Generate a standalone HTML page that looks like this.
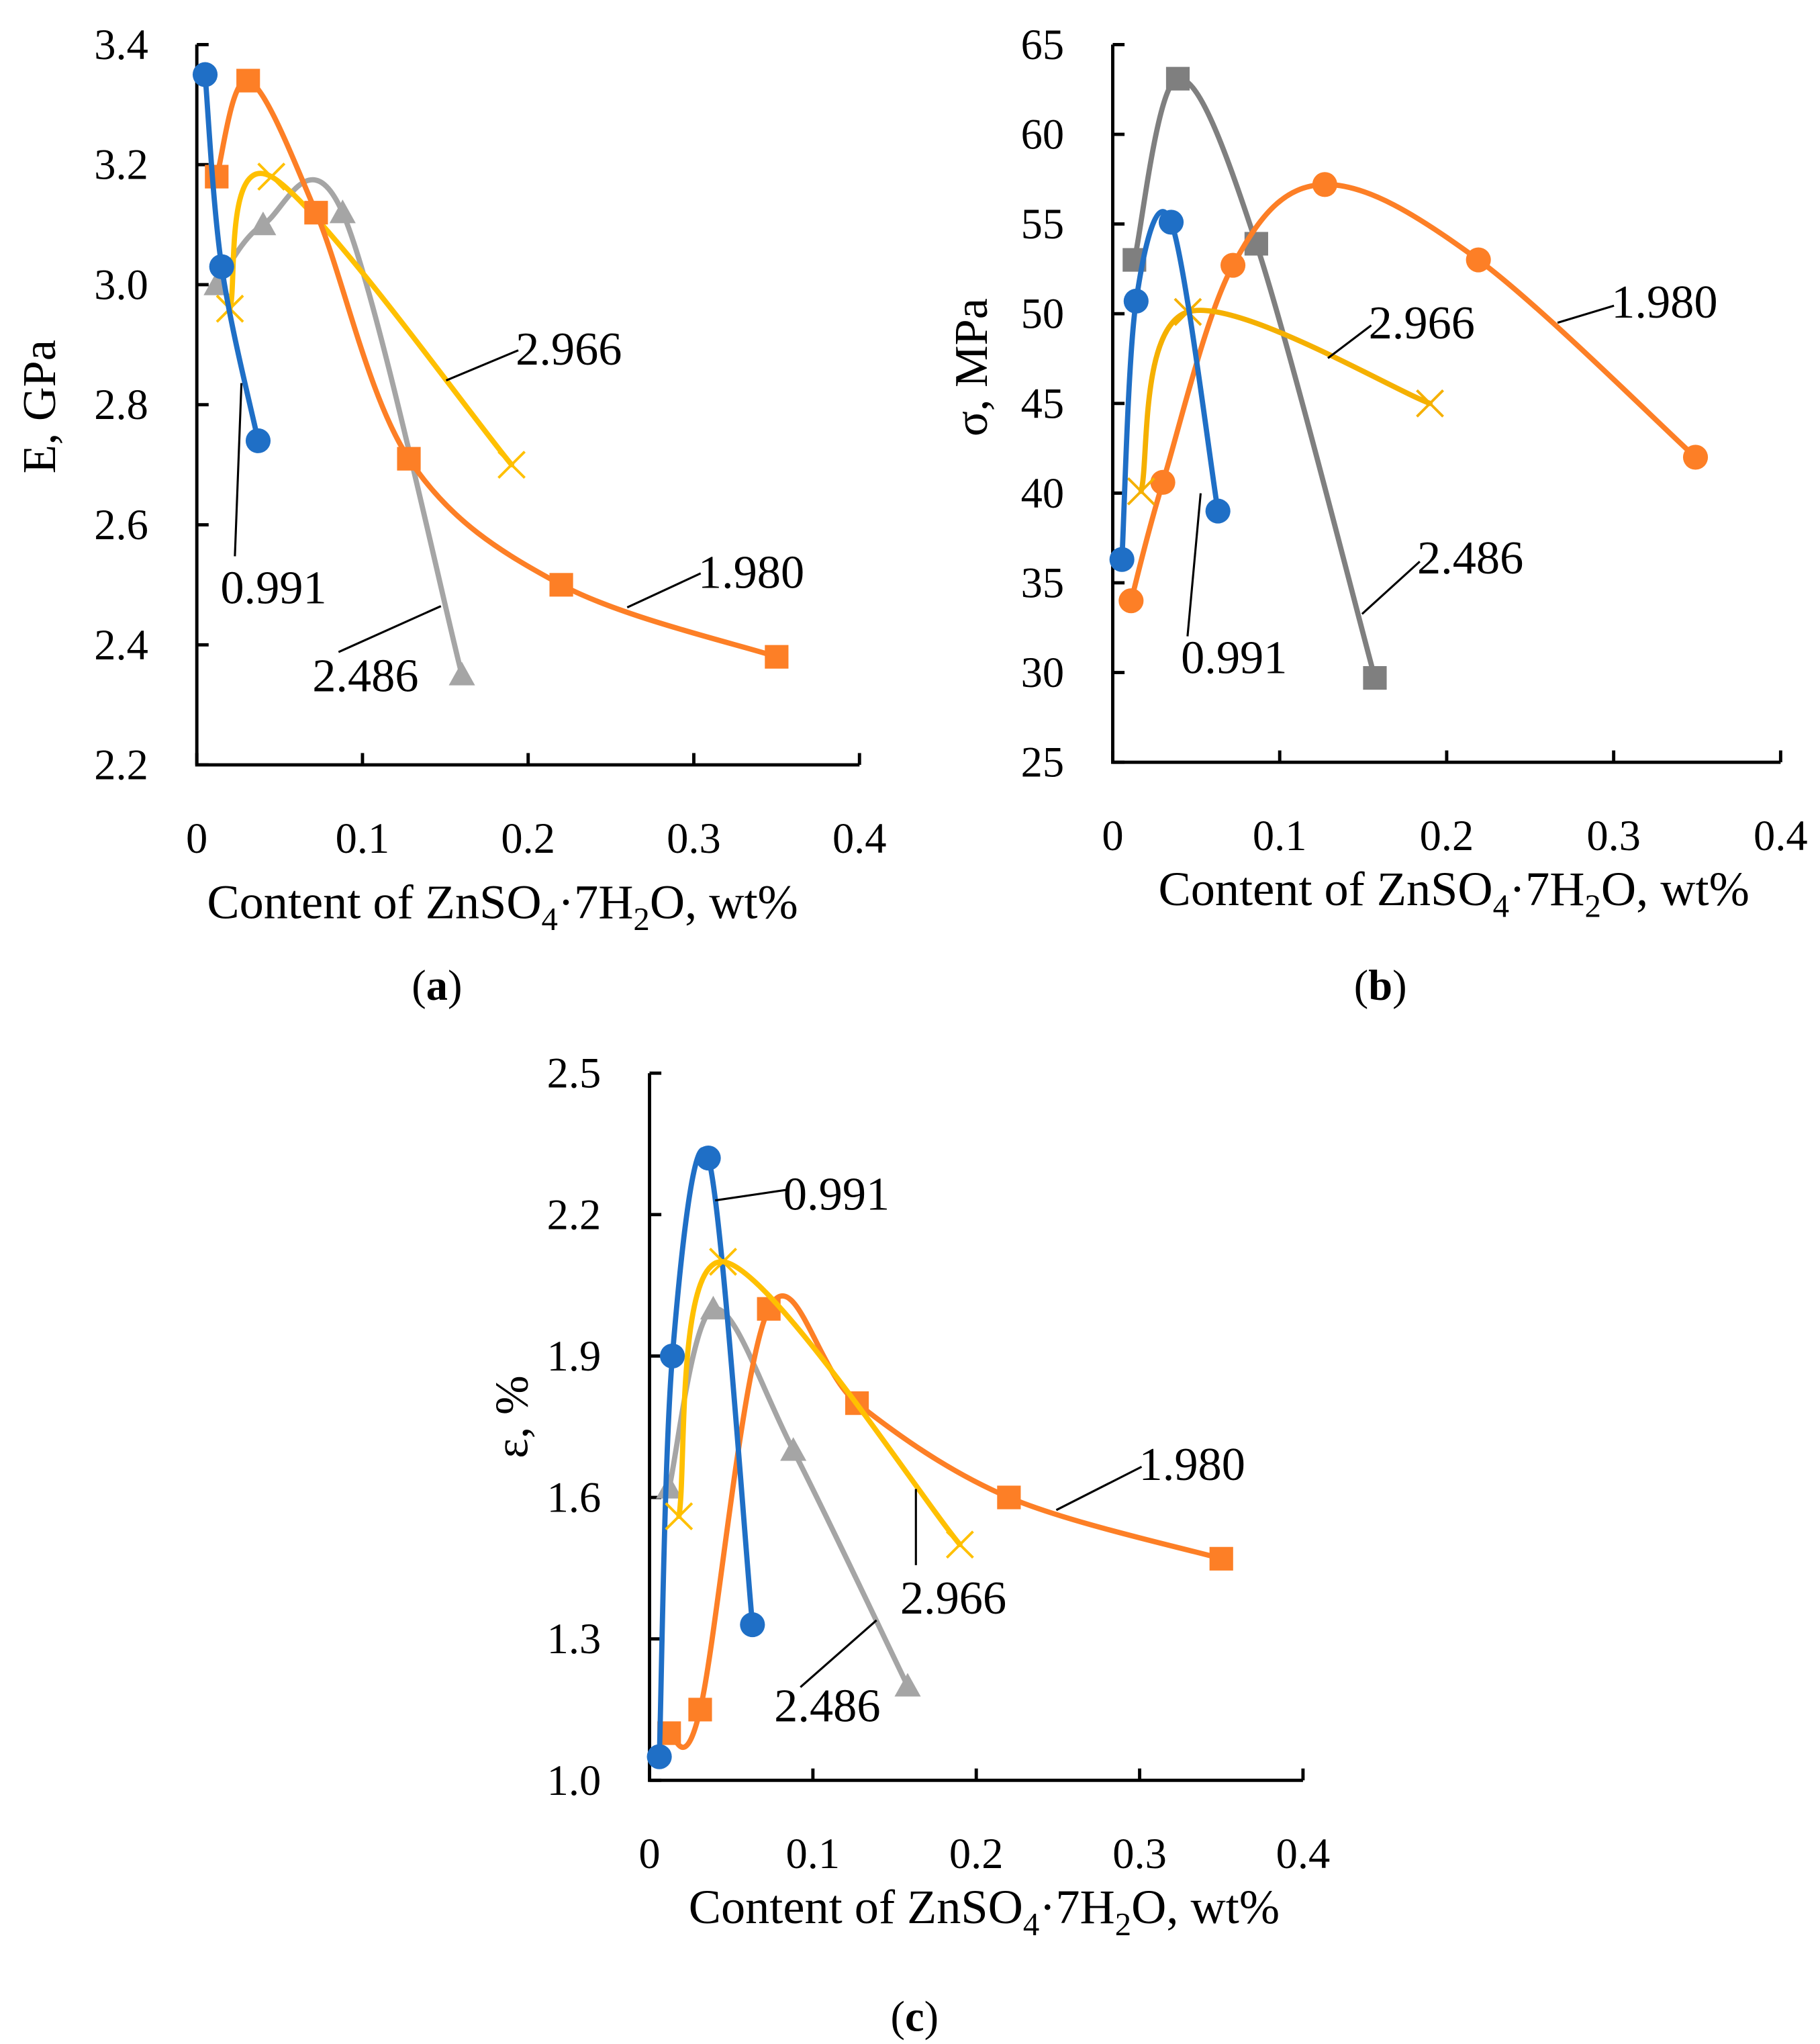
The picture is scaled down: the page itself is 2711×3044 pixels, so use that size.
<!DOCTYPE html>
<html><head><meta charset="utf-8">
<style>
html,body{margin:0;padding:0;background:#fff;}
svg{display:block;}
text{font-family:"Liberation Serif",serif;fill:#000;}
</style></head>
<body>
<svg id="fig" width="2711" height="3044" viewBox="0 0 1387 1558" preserveAspectRatio="none" xmlns="http://www.w3.org/2000/svg"></svg>
<script>
// ---------- data ----------
const xTicks = [0, 0.1, 0.2, 0.3, 0.4];
const xTickLabels = ["0", "0.1", "0.2", "0.3", "0.4"];
const seriesNames = ["0.991", "1.980", "2.486", "2.966"];

// chart a: E, GPa
const aYTicks = [2.2, 2.4, 2.6, 2.8, 3.0, 3.2, 3.4];
const aYTickLabels = ["2.2", "2.4", "2.6", "2.8", "3.0", "3.2", "3.4"];
const aX0991 = [0.005, 0.015, 0.037];
const aY0991 = [3.35, 3.03, 2.74];
const aX1980 = [0.012, 0.031, 0.072, 0.128, 0.22, 0.35];
const aY1980 = [3.18, 3.34, 3.12, 2.71, 2.50, 2.38];
const aX2486 = [0.012, 0.04, 0.088, 0.16];
const aY2486 = [3.00, 3.10, 3.12, 2.35];
const aX2966 = [0.02, 0.045, 0.19];
const aY2966 = [2.96, 3.18, 2.70];

// chart b: sigma, MPa
const bYTicks = [25, 30, 35, 40, 45, 50, 55, 60, 65];
const bYTickLabels = ["25", "30", "35", "40", "45", "50", "55", "60", "65"];
const bX0991 = [0.0055, 0.014, 0.035, 0.063];
const bY0991 = [36.3, 50.7, 55.1, 39.0];
const bX1980 = [0.011, 0.03, 0.072, 0.127, 0.219, 0.349];
const bY1980 = [34.0, 40.6, 52.7, 57.2, 53.0, 42.0];
const bX2486 = [0.013, 0.039, 0.086, 0.157];
const bY2486 = [53.0, 63.1, 53.9, 29.7];
const bX2966 = [0.017, 0.045, 0.19];
const bY2966 = [40.1, 50.1, 45.0];

// chart c: epsilon, %
const cYTicks = [1.0, 1.3, 1.6, 1.9, 2.2, 2.5];
const cYTickLabels = ["1.0", "1.3", "1.6", "1.9", "2.2", "2.5"];
const cX0991 = [0.006, 0.014, 0.036, 0.063];
const cY0991 = [1.05, 1.90, 2.32, 1.33];
const cX1980 = [0.012, 0.031, 0.073, 0.127, 0.22, 0.35];
const cY1980 = [1.10, 1.15, 2.00, 1.80, 1.60, 1.47];
const cX2486 = [0.012, 0.039, 0.088, 0.158];
const cY2486 = [1.62, 2.00, 1.70, 1.20];
const cX2966 = [0.018, 0.045, 0.19];
const cY2966 = [1.56, 2.10, 1.50];

const NS = "http://www.w3.org/2000/svg";
const svg = document.getElementById("fig");
function mk(tag, attrs, parent) {
  const e = document.createElementNS(NS, tag);
  for (const k in attrs) e.setAttribute(k, attrs[k]);
  (parent || svg).appendChild(e);
  return e;
}
function spline(pts) {
  if (pts.length < 2) return "";
  let d = "M" + pts[0][0] + "," + pts[0][1];
  const t = 1/6;
  for (let i = 0; i < pts.length - 1; i++) {
    const p0 = pts[i - 1] || pts[i], p1 = pts[i], p2 = pts[i + 1], p3 = pts[i + 2] || p2;
    const c1 = [p1[0] + (p2[0] - p0[0]) * t, p1[1] + (p2[1] - p0[1]) * t];
    const c2 = [p2[0] - (p3[0] - p1[0]) * t, p2[1] - (p3[1] - p1[1]) * t];
    d += " C" + c1[0] + "," + c1[1] + " " + c2[0] + "," + c2[1] + " " + p2[0] + "," + p2[1];
  }
  return d;
}
function marker(g, kind, x, y, color) {
  let m;
  if (kind === "circle") m = mk("circle", {cx: x, cy: y, r: 9.5, fill: color}, g);
  else if (kind === "square") m = mk("rect", {x: x - 9, y: y - 9, width: 18, height: 18, fill: color}, g);
  else if (kind === "triangle") m = mk("path", {d: `M${x},${y-10} L${x+10},${y+8} L${x-10},${y+8} Z`, fill: color}, g);
  else m = mk("path", {d: `M${x-10},${y-10} L${x+10},${y+10} M${x-10},${y+10} L${x+10},${y-10}`, stroke: color, "stroke-width": 2}, g);
  
  
}
function chart(cfg) {
  const g = mk("g", {});
  
  
  const X = v => cfg.x0 + (v - 0) / 0.4 * (cfg.x1 - cfg.x0);
  const Y = v => cfg.yb + (v - cfg.ymin) / (cfg.ymax - cfg.ymin) * (cfg.yt - cfg.yb);
  const ax = mk("path", {d: `M${cfg.x0},${cfg.yt} L${cfg.x0},${cfg.yb} L${cfg.x1},${cfg.yb}`, fill: "none", stroke: "#000", "stroke-width": 2.5}, g);
  
  
  cfg.yTicks.forEach((v, i) => {
    const y = Y(v);
    const tk = mk("line", {x1: cfg.x0, x2: cfg.x0 + 9, y1: y, y2: y, stroke: "#000", "stroke-width": 2.5}, g);
    
    
    const t = mk("text", {x: cfg.x0 - 37, y: y + 11, "text-anchor": "end", "font-size": 33}, g);
    t.textContent = cfg.yLabels[i];
    
    
  });
  xTicks.forEach((v, i) => {
    const x = X(v);
    const tk = mk("line", {x1: x, x2: x, y1: cfg.yb, y2: cfg.yb - 9, stroke: "#000", "stroke-width": 2.5}, g);
    
    
    const t = mk("text", {x: x, y: cfg.yb + 67, "text-anchor": "middle", "font-size": 33}, g);
    t.textContent = xTickLabels[i];
    
    
  });
  const xt = mk("text", {x: cfg.xtx, y: cfg.xty, "text-anchor": "middle", "font-size": 37}, g);
  xt.innerHTML = 'Content of ZnSO<tspan dy="9" font-size="25">4</tspan><tspan dy="-9">·7H</tspan><tspan dy="9" font-size="25">2</tspan><tspan dy="-9">O, wt%</tspan>';
  
  
  const yt = mk("text", {x: 0, y: 0, "text-anchor": "middle", "font-size": 36, transform: `translate(${cfg.ytx},${cfg.yty}) rotate(-90)`}, g);
  yt.textContent = cfg.yTitle;
  
  
  const cap = mk("text", {x: cfg.capx, y: cfg.capy, "text-anchor": "middle", "font-size": 33}, g);
  cap.innerHTML = '(<tspan font-weight="bold">' + cfg.cap + '</tspan>)';
  
  
  cfg.series.forEach(s => {
    const sg = mk("g", {}, g);
    
    
    const pts = s.xs.map((v, i) => [X(v), Y(s.ys[i])]);
    const ln = mk("path", {d: spline(pts), fill: "none", stroke: s.color, "stroke-width": 4, "stroke-linecap": "round"}, sg);
    
    
    pts.forEach(p => marker(sg, s.kind, p[0], p[1], s.mcolor || s.color));
  });
  cfg.labels.forEach(l => {
    const ld = mk("line", {x1: l.l[0], y1: l.l[1], x2: l.l[2], y2: l.l[3], stroke: "#000", "stroke-width": 1.6}, g);
    
    
    const t = mk("text", {x: l.x, y: l.y, "font-size": 36}, g);
    t.textContent = l.t;
    
    
  });
}
const BLUE = "#1f6fc6", ORANGE = "#fd7f26", GRAY = "#a5a5a5", YEL = "#ffc000";
chart({name: "chart-a-modulus", x0: 150, x1: 655, yb: 583, yt: 34, ymin: 2.2, ymax: 3.4,
  yTicks: aYTicks, yLabels: aYTickLabels, yTitle: "E, GPa", xtx: 383, xty: 700, ytx: 42, yty: 310, cap: "a", capx: 333, capy: 762,
  series: [
    {label: seriesNames[2], xs: aX2486, ys: aY2486, color: GRAY, kind: "triangle"},
    {label: seriesNames[3], xs: aX2966, ys: aY2966, color: YEL, kind: "x"},
    {label: seriesNames[1], xs: aX1980, ys: aY1980, color: ORANGE, kind: "square"},
    {label: seriesNames[0], xs: aX0991, ys: aY0991, color: BLUE, kind: "circle"}],
  labels: [
    {t: "2.966", x: 393, y: 278, l: [340, 290, 395, 267]},
    {t: "1.980", x: 532, y: 448, l: [478, 463, 534, 437]},
    {t: "0.991", x: 168, y: 460, l: [184, 292, 179, 424]},
    {t: "2.486", x: 238, y: 527, l: [258, 497, 336, 462]}]
});
chart({name: "chart-b-strength", x0: 848, x1: 1357, yb: 581, yt: 34, ymin: 25, ymax: 65,
  yTicks: bYTicks, yLabels: bYTickLabels, yTitle: "σ, MPa", xtx: 1108, xty: 690, ytx: 752, yty: 280, cap: "b", capx: 1052, capy: 762,
  series: [
    {label: seriesNames[2], xs: bX2486, ys: bY2486, color: "#7f7f7f", kind: "square"},
    {label: seriesNames[1], xs: bX1980, ys: bY1980, color: ORANGE, kind: "circle"},
    {label: seriesNames[3], xs: bX2966, ys: bY2966, color: "#f5b000", kind: "x"},
    {label: seriesNames[0], xs: bX0991, ys: bY0991, color: BLUE, kind: "circle"}],
  labels: [
    {t: "2.966", x: 1043, y: 258, l: [1012, 273, 1045, 248]},
    {t: "1.980", x: 1228, y: 242, l: [1187, 246, 1230, 233]},
    {t: "2.486", x: 1080, y: 437, l: [1038, 468, 1082, 428]},
    {t: "0.991", x: 900, y: 513, l: [905, 485, 915, 376]}]
});
chart({name: "chart-c-elongation", x0: 495, x1: 993, yb: 1357, yt: 818, ymin: 1.0, ymax: 2.5,
  yTicks: cYTicks, yLabels: cYTickLabels, yTitle: "ε, %", xtx: 750, xty: 1466, ytx: 402, yty: 1080, cap: "c", capx: 697, capy: 1548,
  series: [
    {label: seriesNames[2], xs: cX2486, ys: cY2486, color: GRAY, kind: "triangle"},
    {label: seriesNames[1], xs: cX1980, ys: cY1980, color: ORANGE, kind: "square"},
    {label: seriesNames[0], xs: cX0991, ys: cY0991, color: BLUE, kind: "circle"},
    {label: seriesNames[3], xs: cX2966, ys: cY2966, color: YEL, kind: "x"}],
  labels: [
    {t: "0.991", x: 597, y: 922, l: [545, 915, 599, 907]},
    {t: "1.980", x: 868, y: 1128, l: [805, 1151, 870, 1118]},
    {t: "2.966", x: 686, y: 1230, l: [698, 1135, 698, 1193]},
    {t: "2.486", x: 590, y: 1312, l: [610, 1286, 668, 1235]}]
});
</script>
</body></html>
